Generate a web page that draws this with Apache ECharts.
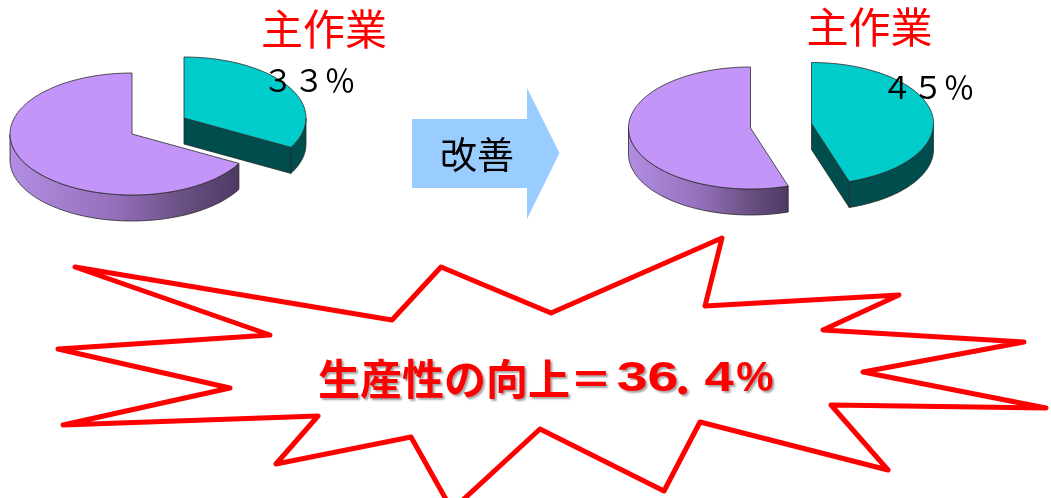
<!DOCTYPE html>
<html><head><meta charset="utf-8">
<style>html,body{margin:0;padding:0;background:#fff}#c{width:1051px;height:498px}</style>
<script src="https://cdn.jsdelivr.net/npm/echarts@6/dist/echarts.min.js"></script>
</head><body><div id="c"></div>
<script>
var beforeShares = [33, 67];
var afterShares = [45, 55];
var titleLabel = '主作業';
var beforeLabel = '３３％';
var afterLabel = '４５％';
var arrowLabel = '改善';
var headlineText = '生産性の向上＝';
var headlineFigures = ['36', '．', '4', '%'];
var burstOutline = [[75,267],[392,320],[441,267],[551,313],[722,238],[705,306],[899,295],[823,330],[1024,342],[863,372],[1046,408],[831,405],[888,470],[700,422],[664,491],[540,429],[452,510],[411,437],[276,464],[318,416],[63,425],[230,388],[58,349],[270,335]];

var TOP = ['#00CCCC', '#C495F8'];
var RX = 122, RY = 61, DEPTH = 26;
var leftCentres = [[184,118],[132,134]];
var rightCentres = [[811.5,123.5],[750.5,128]];

function pt(c, deg, d) {
  var a = deg * Math.PI / 180;
  return [c[0] + RX * Math.sin(a), c[1] - RY * Math.cos(a) + (d || 0)];
}
function arc(c, a0, a1, d) {
  var out = [], n = Math.max(2, Math.ceil(Math.abs(a1 - a0) / 1.5));
  for (var i = 0; i <= n; i++) out.push(pt(c, a0 + (a1 - a0) * i / n, d));
  return out;
}
function pieSeries(shares, centres) {
  return {
    type: 'custom', coordinateSystem: 'none', silent: true,
    data: shares.map(function (v, i) { return [v, i]; }),
    renderItem: function (params, api) {
      var idx = api.value(1), total = shares.reduce(function (a, b) { return a + b; }, 0);
      var before = shares.slice(0, idx).reduce(function (a, b) { return a + b; }, 0);
      var a0 = before / total * 360, a1 = (before + api.value(0)) / total * 360;
      var c = centres[idx], kids = [];
      var stroke = { stroke: '#2a2a2a', lineWidth: 0.8 };
      var wallFill = idx === 0 ? '#004D4D' : new echarts.graphic.LinearGradient(0, 0, 1, 0, [
        { offset: 0, color: '#B18EE2' }, { offset: 0.45, color: '#9470BC' },
        { offset: 0.75, color: '#6A5184' }, { offset: 1, color: '#4E3963' }]);
      if (idx === 0) {
        var e = pt(c, a1);
        kids.push({ type: 'polygon', shape: { points: [[c[0], c[1]], e, [e[0], e[1] + DEPTH], [c[0], c[1] + DEPTH]] },
          style: Object.assign({ fill: '#004D4D' }, stroke) });
      }
      var w0 = Math.max(a0, 90), w1 = Math.min(a1, 270);
      if (w1 > w0) {
        kids.push({ type: 'polygon', shape: { points: arc(c, w0, w1, 0).concat(arc(c, w1, w0, DEPTH)) },
          style: Object.assign({ fill: wallFill }, stroke) });
      }
      kids.push({ type: 'polygon', shape: { points: [[c[0], c[1]]].concat(arc(c, a0, a1, 0)) },
        style: Object.assign({ fill: TOP[idx] }, stroke) });
      return { type: 'group', children: kids };
    }
  };
}
function txt(x, y, s, size, color, extra, font) {
  return { type: 'text', x: x, y: y, z: 10, silent: true, scaleX: (extra && extra.scaleX) || 1,
    style: Object.assign({ text: s, fill: color, fontSize: size,
      fontFamily: font || '"Noto Sans CJK JP"', align: 'center', verticalAlign: 'middle' }, (extra && extra.style) || {}) };
}
var shadow = { fontWeight: 'bold', textShadowColor: 'rgba(0,0,0,0.35)', textShadowBlur: 2, textShadowOffsetX: 2, textShadowOffsetY: 2 };
var headFont = '"Liberation Sans"';

var chart = echarts.init(document.getElementById('c'), null, { renderer: 'canvas' });
chart.setOption({
  backgroundColor: '#fff', animation: false,
  series: [pieSeries(beforeShares, leftCentres), pieSeries(afterShares, rightCentres)],
  graphic: [
    { type: 'polygon', z: 1, silent: true, shape: { points: [[412,119],[527,119],[527,88],[559.5,153],[527,219],[527,188],[412,188]] }, style: { fill: '#99CCFF' } },
    { type: 'polygon', z: 1, silent: true, shape: { points: burstOutline }, style: { fill: 'none', stroke: '#FF0000', lineWidth: 5, lineJoin: 'round' } },
    txt(324, 29.5, titleLabel, 42, '#FF0000'),
    txt(869.5, 27.5, titleLabel, 42, '#FF0000'),
    txt(309, 80, beforeLabel, 31, '#000'),
    txt(928, 87, afterLabel, 31, '#000'),
    txt(477, 155, arrowLabel, 37, '#000'),
    txt(465, 379, headlineText, 42, '#FF0000', { style: shadow }),
    txt(647.5, 379, headlineFigures[0], 42, '#FF0000', { scaleX: 1.32, style: shadow }, headFont),
    txt(692, 379, headlineFigures[1], 42, '#FF0000', { style: shadow }),
    txt(719, 379, headlineFigures[2], 42, '#FF0000', { scaleX: 1.25, style: shadow }, headFont),
    txt(755, 379, headlineFigures[3], 42, '#FF0000', { style: shadow }, headFont)
  ]
});
</script></body></html>
